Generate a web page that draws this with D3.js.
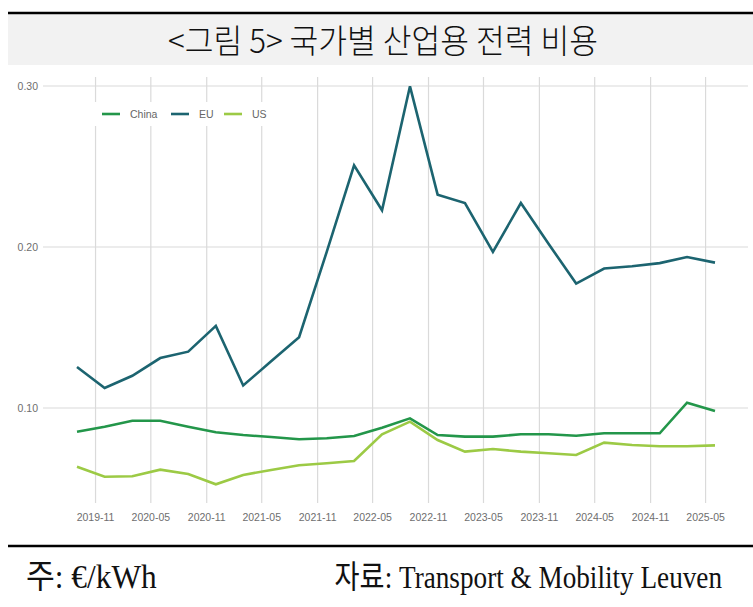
<!DOCTYPE html>
<html>
<head>
<meta charset="utf-8">
<script src="https://cdn.jsdelivr.net/npm/d3@7"></script>
<style>
  body { margin: 0; background: #fff; }
  svg { display: block; }
</style>
</head>
<body>
<div id="output"></div>
<script>
var w = 753;   // svg width
var h = 607;   // svg height

// quarterly observations
var dates = ['2019-09', '2019-12', '2020-03', '2020-06', '2020-09', '2020-12',
             '2021-03', '2021-06', '2021-09', '2021-12', '2022-03', '2022-06',
             '2022-09', '2022-12', '2023-03', '2023-06', '2023-09', '2023-12',
             '2024-03', '2024-06', '2024-09', '2024-12', '2025-03', '2025-06'];

var china = [0.0853, 0.0884, 0.0921, 0.0921, 0.0884, 0.0849, 0.0832, 0.0820,
             0.0806, 0.0812, 0.0826, 0.0878, 0.0936, 0.0832, 0.0822, 0.0822,
             0.0837, 0.0837, 0.0828, 0.0843, 0.0843, 0.0843, 0.1033, 0.0981];

var eu = [0.1255, 0.1124, 0.1200, 0.1310, 0.1350, 0.1510, 0.1140, 0.1290,
          0.1440, 0.1970, 0.2507, 0.2228, 0.2998, 0.2325, 0.2273, 0.1970,
          0.2273, 0.2020, 0.1773, 0.1866, 0.1880, 0.1900, 0.1938, 0.1903];

var us = [0.0635, 0.0573, 0.0576, 0.0617, 0.0590, 0.0526, 0.0584, 0.0615,
          0.0644, 0.0657, 0.0671, 0.0837, 0.0915, 0.0801, 0.0729, 0.0745,
          0.0729, 0.0719, 0.0708, 0.0785, 0.0770, 0.0762, 0.0762, 0.0768];

var xTicks = ['2019-11', '2020-05', '2020-11', '2021-05', '2021-11', '2022-05',
              '2022-11', '2023-05', '2023-11', '2024-05', '2024-11', '2025-05'];
var yTicks = [0.10, 0.20, 0.30];

var seriesNames = ['China', 'EU', 'US'];
var seriesColors = ['#23964a', '#1c6470', '#9cca45'];

var parse = d3.timeParse('%Y-%m');

var svg = d3.select('#output').append('svg')
  .attr('width', w)
  .attr('height', h);

// title band
svg.append('rect').attr('x', 8).attr('y', 13).attr('width', w - 8).attr('height', 52).attr('fill', '#f2f2f2');
svg.append('line').attr('x1', 8).attr('x2', w).attr('y1', 13).attr('y2', 13)
  .attr('stroke', '#000').attr('stroke-width', 2.5);
svg.append('text')
  .attr('x', 383).attr('y', 53)
  .attr('text-anchor', 'middle')
  .attr('textLength', 430).attr('lengthAdjust', 'spacingAndGlyphs')
  .style('font-family', '"Noto Sans CJK KR", sans-serif')
  .style('font-weight', 300)
  .style('font-size', '33px')
  .attr('fill', '#111')
  .text('<그림 5> 국가별 산업용 전력 비용');

// scales
var x = d3.scaleTime()
  .domain([parse('2019-09'), parse('2025-06')])
  .range([77, 715]);
var y = d3.scaleLinear()
  .domain([0.10, 0.30])
  .range([408, 86]);

var grid = svg.append('g');
grid.selectAll('.vg')
  .data(xTicks)
  .enter().append('line')
  .attr('x1', function(d) { return x(parse(d)); })
  .attr('x2', function(d) { return x(parse(d)); })
  .attr('y1', 77).attr('y2', 503)
  .attr('stroke', '#dadada').attr('stroke-width', 1.2);
grid.selectAll('.hg')
  .data(yTicks)
  .enter().append('line')
  .attr('x1', 43).attr('x2', 748)
  .attr('y1', function(d) { return y(d); })
  .attr('y2', function(d) { return y(d); })
  .attr('stroke', '#dadada').attr('stroke-width', 1.2);

// y labels
svg.selectAll('.yl')
  .data(yTicks)
  .enter().append('text')
  .attr('x', 38).attr('y', function(d) { return y(d) + 3.5; })
  .attr('text-anchor', 'end')
  .style('font-family', '"Liberation Sans", Arial, sans-serif')
  .style('font-size', '10.5px')
  .attr('fill', '#6e6e6e')
  .text(function(d) { return d3.format('.2f')(d); });

// x labels
svg.selectAll('.xl')
  .data(xTicks)
  .enter().append('text')
  .attr('x', function(d) { return x(parse(d)); })
  .attr('y', 521)
  .attr('text-anchor', 'middle')
  .style('font-family', '"Liberation Sans", Arial, sans-serif')
  .style('font-size', '10.5px')
  .attr('fill', '#6e6e6e')
  .text(function(d) { return d; });

// lines
var line = d3.line()
  .x(function(d, i) { return x(parse(dates[i])); })
  .y(function(d) { return y(d); });

var allSeries = [china, eu, us];
svg.selectAll('.series')
  .data(allSeries)
  .enter().append('path')
  .attr('d', line)
  .attr('fill', 'none')
  .attr('stroke', function(d, i) { return seriesColors[i]; })
  .attr('stroke-width', 2.6)
  .attr('stroke-linejoin', 'miter');

// legend
var legend = svg.append('g');
legend.append('rect').attr('x', 93).attr('y', 102).attr('width', 182).attr('height', 24).attr('fill', '#fff');
var legX = [102, 171, 224];
legend.selectAll('.ll')
  .data(seriesNames)
  .enter().append('line')
  .attr('x1', function(d, i) { return legX[i]; })
  .attr('x2', function(d, i) { return legX[i] + 18; })
  .attr('y1', 114).attr('y2', 114)
  .attr('stroke', function(d, i) { return seriesColors[i]; })
  .attr('stroke-width', 2.6);
legend.selectAll('.lt')
  .data(seriesNames)
  .enter().append('text')
  .attr('x', function(d, i) { return legX[i] + 28; })
  .attr('y', 118)
  .style('font-family', '"Liberation Sans", Arial, sans-serif')
  .style('font-size', '10.5px')
  .attr('fill', '#666')
  .text(function(d) { return d; });

// footer
svg.append('line').attr('x1', 8).attr('x2', w).attr('y1', 546).attr('y2', 546)
  .attr('stroke', '#000').attr('stroke-width', 2.5);
svg.append('text')
  .attr('transform', 'translate(26,588) scale(0.95,1)')
  .style('font-family', '"Liberation Serif", "Noto Sans CJK KR", serif')
  .style('font-size', '33px')
  .attr('fill', '#111')
  .text('주: €/kWh');
svg.append('text')
  .attr('transform', 'translate(722,588) scale(0.85,1)')
  .attr('text-anchor', 'end')
  .style('font-family', '"Liberation Serif", "Noto Sans CJK KR", serif')
  .style('font-size', '32px')
  .attr('fill', '#111')
  .text('자료: Transport & Mobility Leuven');
</script>
</body>
</html>
